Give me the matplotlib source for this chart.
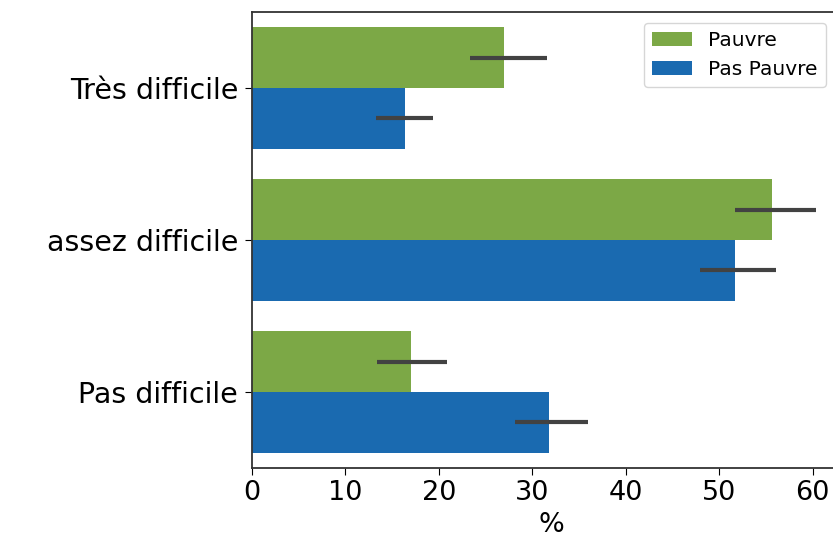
import matplotlib
matplotlib.use("Agg")
import matplotlib.pyplot as plt
import numpy as np

categories = ["Très difficile", "assez difficile", "Pas difficile"]
groups = ["Pauvre", "Pas Pauvre"]
pauvre = [27.0, 55.6, 17.0]
pas_pauvre = [16.4, 51.7, 31.8]
pauvre_ci = [(23.3, 31.6), (51.7, 60.4), (13.4, 20.9)]
pas_pauvre_ci = [(13.3, 19.4), (47.9, 56.1), (28.2, 36.0)]
xticks = [0, 10, 20, 30, 40, 50, 60]

colors = ["#7ca846", "#1a6ab0"]

fig = plt.figure(figsize=(8.33, 5.4), dpi=100)
ax = fig.add_axes([252/833, 72/540, 598/833, 456/540])

y = np.arange(len(categories))
h = 0.4
for i, (vals, ci, c, lab) in enumerate(zip([pauvre, pas_pauvre], [pauvre_ci, pas_pauvre_ci], colors, groups)):
    pos = y - h/2 + i*h
    ax.barh(pos, vals, height=h, color=c, label=lab)
    for p, (lo, hi) in zip(pos, ci):
        ax.plot([lo, hi], [p, p], color="#424242", lw=3, solid_capstyle="butt")

ax.set_yticks(y)
ax.set_yticklabels(categories, fontsize=20.5)
ax.set_xticks(xticks)
ax.tick_params(axis="x", labelsize=19.5, length=5, pad=4)
ax.tick_params(axis="y", length=5, pad=5)
ax.set_xlim(0, 64)
ax.set_ylim(2.5, -0.5)
ax.set_xlabel("%", fontsize=19.5, labelpad=4)
for s in ax.spines.values():
    s.set_linewidth(1.3)
    s.set_color("#333333")
leg = ax.legend(loc="upper right", bbox_to_anchor=(826/833, 1 - 23/540), bbox_transform=fig.transFigure,
                fontsize=14.5, frameon=True, borderaxespad=0)
fig.savefig("out.png", dpi=100)
